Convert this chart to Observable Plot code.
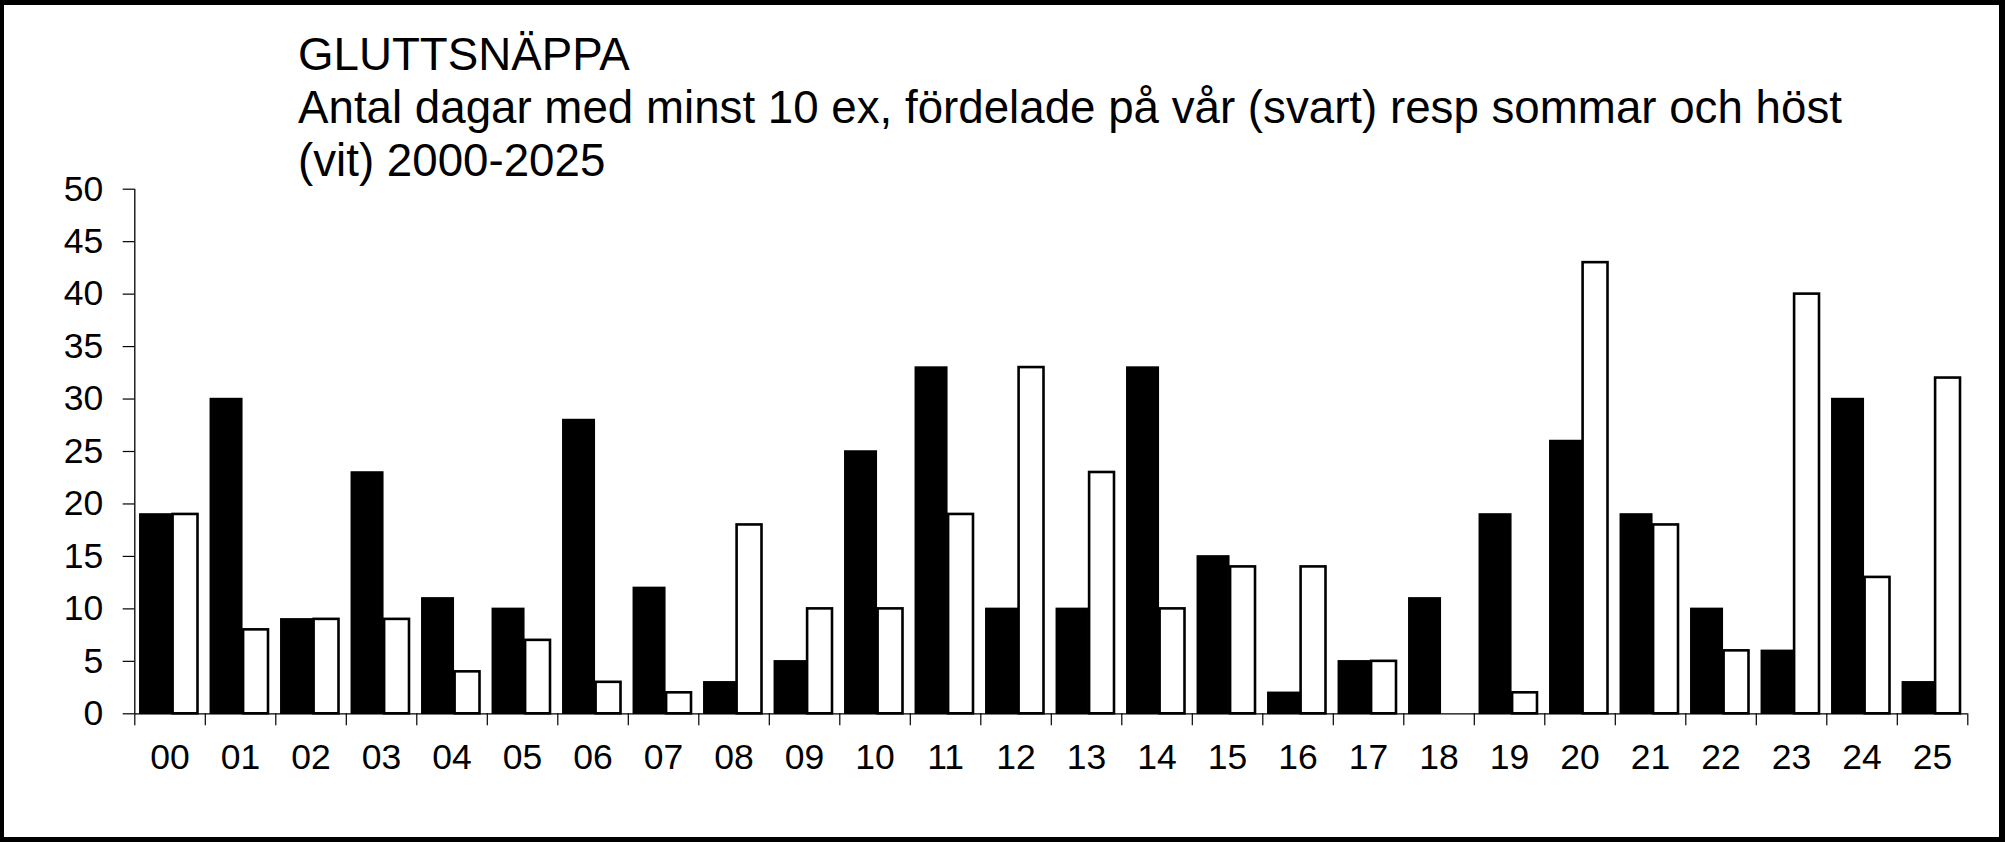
<!DOCTYPE html>
<html>
<head>
<meta charset="utf-8">
<script src="https://cdn.jsdelivr.net/npm/d3@7"></script>
<script src="https://cdn.jsdelivr.net/npm/@observablehq/plot@0.6"></script>
<style>
  html, body { margin: 0; padding: 0; background: #fff; }
  #wrap { position: relative; width: 2005px; height: 842px; overflow: hidden; background: #fff;
          font-family: "Liberation Sans", Arial, sans-serif; color: #000; }
  #title { position: relative; z-index: 1; height: 170px; overflow: visible; box-sizing: border-box;
           padding-top: 27.7px; padding-left: 298px;
           font-size: 45.7px; line-height: 53px; white-space: nowrap; }
  #title .line { display: block; }
  #frame { position: absolute; left: 0; top: 0; width: 2005px; height: 842px; box-sizing: border-box;
           border-style: solid; border-color: #000; border-width: 5px 6px 5px 4px; pointer-events: none; z-index: 2; }
  svg { display: block; }
</style>
</head>
<body>
<div id="wrap">
  <div id="title">
    <span class="line">GLUTTSNÄPPA</span>
    <span class="line">Antal dagar med minst 10 ex, fördelade på vår (svart) resp sommar och höst</span>
    <span class="line">(vit) 2000-2025</span>
  </div>
  <div id="chart"></div>
  <div id="frame"></div>
</div>
<script>
// Category labels (years 2000-2025)
const years = ["00","01","02","03","04","05","06","07","08","09","10","11","12","13","14","15","16","17","18","19","20","21","22","23","24","25"];
// Spring (black bars)
const spring = [19,30,9,23,11,10,28,12,3,5,25,33,10,10,33,15,2,5,11,19,26,19,10,6,30,3];
// Summer and autumn (white bars)
const summerAutumn = [19,8,9,9,4,7,3,2,18,10,10,19,33,23,10,14,14,5,0,2,43,18,6,40,13,32];
// Y-axis ticks
const yTicks = [0,5,10,15,20,25,30,35,40,45,50];

const springData = years.map((y, i) => ({year: y, i, v: spring[i]}));
const autumnData = years.map((y, i) => ({year: y, i, v: summerAutumn[i]})).filter(d => d.v > 0);

const chart = Plot.plot({
  width: 2005,
  height: 672,
  marginLeft: 134.3,
  marginRight: 37.7,
  marginTop: 18.7,
  marginBottom: 128.7,
  style: {fontFamily: '"Liberation Sans", Arial, sans-serif', fontSize: "35.5px", color: "#000", background: "transparent"},
  x: {domain: [0, years.length], nice: false},
  y: {domain: [0, 50], nice: false},
  marks: [
    Plot.rectY(autumnData, {x1: d => d.i, x2: d => d.i + 1, y: "v",
      insetLeft: 38.3, insetRight: 7.3, fill: "#fff", stroke: "#000", strokeWidth: 2.6}),
    Plot.rectY(springData, {x1: d => d.i, x2: d => d.i + 1, y: "v",
      insetLeft: 5.5, insetRight: 33.5, fill: "#000", stroke: "#000", strokeWidth: 1.5}),
    Plot.ruleX([0], {stroke: "#000", strokeWidth: 1.3}),
    Plot.ruleY([0], {stroke: "#000", strokeWidth: 1.3}),
    Plot.axisY({ticks: yTicks, tickSize: 11.6, tickPadding: 20, stroke: "#000", strokeWidth: 1.2,
      tickFormat: d => String(d), label: null}),
    Plot.axisX({ticks: d3.range(years.length + 1), tickSize: 12, stroke: "#000", strokeWidth: 1.2,
      tickFormat: () => "", label: null}),
    Plot.axisX({ticks: years.map((y, i) => i + 0.5), tickSize: 0, tickPadding: 30,
      tickFormat: d => years[Math.floor(d)], label: null})
  ]
});
document.getElementById("chart").appendChild(chart);
</script>
</body>
</html>
